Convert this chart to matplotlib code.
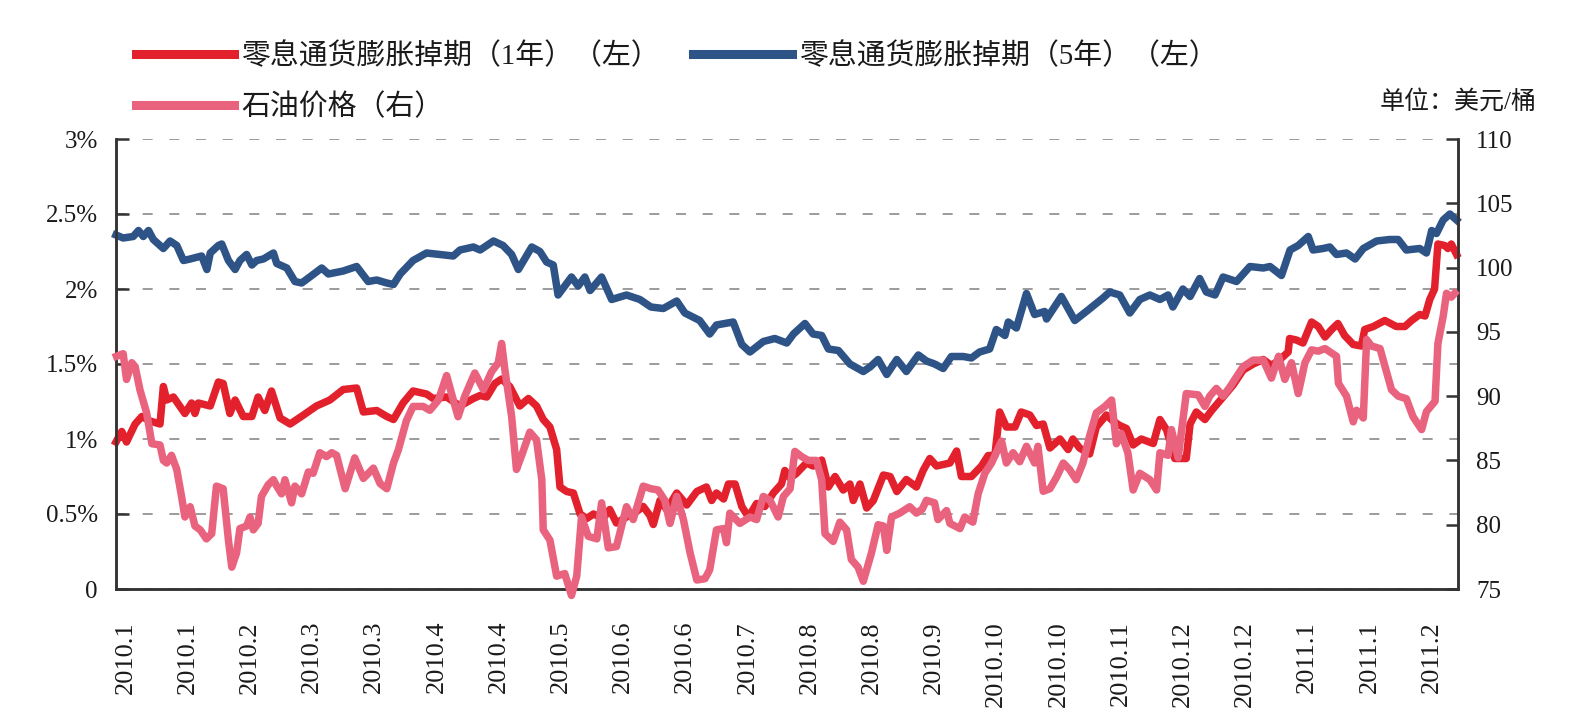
import matplotlib
matplotlib.use("Agg")
import matplotlib.pyplot as plt
from matplotlib.lines import Line2D

plt.rcParams['font.family'] = ['Liberation Serif', 'Noto Sans CJK SC']

# trading-day index from the first day shown; one tick label every 13 days
tick_days = [2 + 13 * i for i in range(22)]
tick_labels = ["2010.1", "2010.1", "2010.2", "2010.3", "2010.3", "2010.4", "2010.4",
               "2010.5", "2010.6", "2010.6", "2010.7", "2010.8", "2010.8", "2010.9",
               "2010.10", "2010.10", "2010.11", "2010.12", "2010.12", "2011.1",
               "2011.1", "2011.2"]

# 5-year zero coupon inflation swap, %
day_5y = [0.0, 1.5, 3.6, 4.7, 5.7, 6.8, 7.8, 9.9, 11.3, 12.7, 14.1, 15.5, 17.9, 19.0, 19.7,
          21.4, 22.1, 23.5, 24.9, 25.9, 27.3, 28.4, 29.4, 30.8, 32.9, 33.6, 35.7, 37.4, 38.8,
          40.5, 43.0, 44.4, 47.5, 50.3, 52.7, 54.5, 56.6, 58.0, 59.4, 62.1, 64.9, 67.7, 70.5,
          71.9, 74.7, 76.1, 78.9, 80.9, 82.7, 84.1, 86.9, 88.6, 90.0, 91.4, 92.4, 93.8, 95.2,
          96.6, 98.0, 99.1, 101.5, 103.6, 106.7, 109.5, 111.8, 114.4, 117.2, 118.9, 122.0,
          124.1, 125.5, 129.0, 130.8, 132.5, 135.3, 137.7, 140.2, 141.6, 144.0, 145.7, 147.5,
          148.9, 151.0, 153.4, 156.2, 157.6, 159.3, 161.1, 163.2, 165.2, 167.7, 169.4, 171.1,
          172.9, 174.6, 177.1, 178.8, 180.5, 182.6, 184.0, 185.8, 186.5, 188.2, 190.3, 192.0,
          194.1, 194.5, 197.6, 200.4, 202.8, 206.3, 207.7, 209.8, 211.9, 214.0, 216.1, 218.2,
          219.9, 220.9, 223.0, 224.5, 226.5, 227.9, 229.7, 231.4, 234.2, 237.0, 239.8, 241.2,
          243.6, 245.4, 247.1, 249.2, 250.2, 252.3, 253.7, 255.1, 257.2, 259.0, 260.7, 263.5,
          266.2, 268.0, 269.7, 272.5, 273.9, 275.0, 276.0, 277.4, 278.8, 280.2]
swap_5y = [2.36, 2.34, 2.35, 2.39, 2.35, 2.39, 2.33, 2.27, 2.32, 2.29, 2.19, 2.20, 2.22, 2.13, 2.24,
           2.29, 2.30, 2.19, 2.13, 2.19, 2.23, 2.16, 2.19, 2.20, 2.24, 2.17, 2.14, 2.05, 2.04,
           2.08, 2.14, 2.10, 2.12, 2.15, 2.05, 2.06, 2.04, 2.03, 2.10, 2.19, 2.24, 2.23, 2.22,
           2.26, 2.28, 2.26, 2.32, 2.29, 2.23, 2.13, 2.28, 2.25, 2.18, 2.16, 1.96, 2.02, 2.08,
           2.02, 2.08, 1.99, 2.08, 1.93, 1.96, 1.93, 1.88, 1.87, 1.92, 1.84, 1.79,
           1.70, 1.76, 1.78, 1.63, 1.58, 1.65, 1.67, 1.64, 1.70, 1.77, 1.70, 1.69,
           1.60, 1.59, 1.50, 1.45, 1.48, 1.53, 1.43, 1.53, 1.45, 1.56, 1.52, 1.50,
           1.47, 1.55, 1.55, 1.54, 1.58, 1.60, 1.73, 1.69, 1.78, 1.74, 1.97, 1.83,
           1.85, 1.80, 1.95, 1.79, 1.85, 1.94, 1.98, 1.96, 1.84, 1.93, 1.96, 1.93,
           1.96, 1.88, 2.00, 1.95, 2.07, 1.98, 1.96, 2.08, 2.05, 2.15, 2.14, 2.15,
           2.09, 2.26, 2.29, 2.35, 2.26, 2.27, 2.28, 2.23, 2.24, 2.20, 2.27, 2.32,
           2.33, 2.33, 2.26, 2.27, 2.24, 2.39, 2.37, 2.46, 2.50, 2.46]

# 1-year zero coupon inflation swap, %
day_1y = [0.0, 1.2, 2.2, 4.0, 5.4, 7.1, 9.2, 9.9, 10.6, 12.0, 14.4, 15.8, 16.5, 17.2, 19.7,
          21.4, 22.4, 23.8, 24.9, 26.6, 28.4, 29.7, 31.1, 32.5, 34.3, 36.4, 39.2, 41.9, 44.7,
          47.5, 50.3, 51.7, 54.5, 56.6, 58.0, 60.0, 62.1, 64.9, 66.3, 69.1, 71.9, 74.7, 76.1,
          77.5, 79.2, 80.6, 82.3, 84.4, 86.2, 87.9, 89.3, 90.7, 92.1, 92.8, 94.2, 95.6, 97.0,
          98.4, 99.8, 101.8, 103.2, 104.6, 106.7, 108.1, 110.2, 111.6, 112.3, 113.7, 115.1,
          117.2, 119.3, 121.4, 123.4, 124.5, 125.5, 127.0, 128.0, 129.4, 130.8, 132.2, 133.9,
          135.6, 137.4, 139.1, 139.8, 140.9, 142.2, 144.3, 145.7, 147.5, 148.9, 150.3, 152.0,
          153.4, 154.1, 155.5, 156.9, 158.3, 160.4, 161.8, 163.2, 165.2, 167.3, 168.7, 170.1,
          171.5, 174.3, 175.7, 176.7, 178.8, 180.9, 182.3, 183.7, 184.7, 186.1, 187.9, 189.2,
          191.0, 192.4, 193.8, 195.2, 197.3, 199.0, 200.0, 201.4, 203.5, 204.9, 207.0, 208.4,
          209.8, 211.2, 212.6, 214.3, 216.8, 218.2, 219.6, 221.3, 223.7, 224.5, 225.8, 227.6,
          229.0, 231.4, 233.5, 235.6, 237.7, 239.8, 241.5, 243.3, 245.0, 245.3, 246.7, 248.1,
          249.9, 251.3, 252.7, 254.1, 255.4, 256.8, 258.6, 260.3, 261.0, 262.8, 265.2, 267.6,
          269.4, 270.8, 272.5, 273.6, 274.6, 275.6, 276.3, 277.7, 278.4, 279.1, 280.2]
swap_1y = [0.98, 1.05, 0.98, 1.10, 1.15, 1.12, 1.10, 1.35, 1.26, 1.28, 1.17, 1.24, 1.17, 1.24, 1.22,
           1.38, 1.37, 1.17, 1.26, 1.15, 1.15, 1.28, 1.19, 1.32, 1.14, 1.10, 1.16, 1.22, 1.26,
           1.33, 1.34, 1.18, 1.19, 1.15, 1.13, 1.24, 1.32, 1.30, 1.27, 1.28, 1.22, 1.27, 1.29,
           1.28, 1.37, 1.40, 1.35, 1.22, 1.27, 1.22, 1.13, 1.08, 0.93, 0.68, 0.65, 0.64, 0.50,
           0.47, 0.50, 0.47, 0.53, 0.44, 0.48, 0.50, 0.55, 0.49, 0.43, 0.59, 0.53,
           0.64, 0.56, 0.65, 0.68, 0.59, 0.64, 0.60, 0.70, 0.70, 0.55, 0.48, 0.57,
           0.55, 0.64, 0.70, 0.79, 0.74, 0.77, 0.84, 0.82, 0.86, 0.68, 0.75, 0.66,
           0.70, 0.59, 0.70, 0.54, 0.59, 0.76, 0.75, 0.65, 0.73, 0.68, 0.79, 0.87,
           0.82, 0.84, 0.92, 0.75, 0.75, 0.82, 0.89, 0.89, 1.18, 1.08, 1.08, 1.18,
           1.16, 1.09, 1.10, 0.94, 1.00, 0.93, 1.00, 0.94, 0.90, 1.08, 1.16, 1.12,
           1.09, 1.07, 0.96, 1.00, 0.97, 1.13, 1.06, 0.87, 0.87, 1.10, 1.18, 1.13,
           1.19, 1.28, 1.36, 1.46, 1.50, 1.53, 1.49, 1.53, 1.58, 1.67, 1.66, 1.64,
           1.78, 1.75, 1.68, 1.73, 1.77, 1.69, 1.63, 1.62, 1.73, 1.75, 1.79, 1.75,
           1.75, 1.79, 1.83, 1.82, 1.93, 2.00, 2.30, 2.29, 2.27, 2.30, 2.23]

# oil price, USD / barrel
day_oil = [0.1, 1.5, 2.2, 3.3, 4.0, 5.0, 6.4, 7.5, 9.2, 9.9, 10.6, 11.6, 12.7, 13.7, 14.4,
           15.5, 16.5, 17.6, 18.9, 20.0, 21.0, 22.4, 23.5, 24.2, 25.2, 25.9, 27.3, 28.0, 28.7,
           29.7, 30.4, 31.8, 32.9, 33.6, 34.6, 35.3, 36.7, 37.4, 38.8, 40.2, 41.2, 42.6, 44.0,
           45.1, 46.1, 47.9, 49.9, 51.7, 53.8, 55.2, 56.6, 58.0, 59.0, 60.7, 62.1, 64.2, 65.6,
           67.4, 69.1, 70.5, 71.5, 72.9, 75.0, 76.8, 78.5, 79.9, 80.6, 81.3, 82.7, 83.7, 84.8,
           86.5, 87.9, 89.0, 89.3, 90.7, 92.1, 93.8, 95.2, 96.3, 97.3, 98.7, 100.5, 101.5,
           102.9, 104.6, 106.7, 108.1, 110.2, 111.8, 113.3, 114.7, 115.8, 117.2, 118.6, 120.0,
           121.4, 123.1, 124.1, 125.5, 127.0, 127.6, 128.3, 130.4, 132.5, 133.9, 135.3, 136.7,
           138.4, 139.5, 140.9, 141.9, 143.3, 144.7, 146.4, 147.5, 148.2, 149.9, 151.3, 152.7,
           153.7, 155.1, 156.2, 157.9, 159.3, 160.4, 161.1, 162.1, 163.8, 165.9, 167.3, 168.5,
           169.4, 171.1, 171.8, 173.6, 174.3, 176.4, 177.4, 179.1, 180.2, 181.6, 183.0, 185.1,
           186.1, 187.5, 188.9, 190.3, 192.0, 192.7, 193.8, 195.2, 196.6, 198.0, 199.3, 200.7,
           202.1, 203.5, 204.9, 206.7, 208.1, 209.1, 210.1, 211.5, 212.6, 214.0, 216.1, 217.5,
           218.2, 219.9, 220.6, 222.0, 223.7, 226.2, 227.6, 228.6, 230.0, 231.4, 232.8, 234.2,
           235.6, 237.7, 239.8, 241.5, 243.0, 244.3, 245.7, 247.1, 248.5, 249.9, 251.3, 252.7,
           255.1, 255.5, 257.2, 258.6, 259.3, 260.7, 261.4, 262.4, 264.2, 266.6, 268.0, 269.7,
           271.1, 272.9, 273.9, 275.7, 276.3, 277.4, 278.1, 279.1, 279.8]
oil = [93.1, 93.3, 91.3, 92.6, 92.3, 90.5, 88.7, 86.3, 86.2, 85.0, 84.8, 85.4, 84.3, 82.2, 80.6,
       81.4, 79.9, 79.6, 78.9, 79.3, 83.0, 82.8, 78.8, 76.7, 77.8, 79.7, 79.9, 80.6, 79.6,
       80.1, 82.2, 83.1, 83.5, 83.0, 82.4, 83.5, 81.7, 83.0, 82.4, 84.1, 84.0, 85.6, 85.3,
       85.6, 85.4, 82.8, 85.2, 83.6, 84.4, 83.2, 82.8, 84.8, 85.8, 88.1, 89.2, 89.2, 88.9,
       89.7, 91.6, 89.7, 88.4, 90.0, 91.8, 90.5, 91.9, 92.6, 94.1, 92.0, 88.4, 84.3, 85.4,
       87.2, 86.6, 83.5, 79.6, 78.8, 76.0, 76.2, 74.5, 76.0, 80.6, 79.1, 78.9, 81.7,
       78.2, 78.3, 81.4, 80.4, 83.0, 82.8, 82.7, 81.9, 80.1, 82.2, 80.4, 77.8,
       75.7, 75.8, 76.5, 79.6, 79.7, 78.6, 80.9, 80.1, 80.6, 80.4, 82.2, 81.9,
       80.6, 82.2, 82.8, 85.7, 85.3, 85.0, 85.0, 83.5, 79.3, 78.7, 80.2, 79.6,
       77.3, 76.7, 75.6, 77.8, 80.0, 79.9, 78.0, 80.6, 80.9, 81.4, 80.9, 81.2,
       81.9, 81.7, 80.4, 81.1, 80.1, 79.7, 80.6, 80.2, 82.4, 84.0, 84.8, 86.5,
       84.8, 85.6, 84.9, 86.1, 84.8, 86.1, 82.6, 82.8, 83.7, 84.8, 84.3, 83.5,
       84.8, 86.9, 88.7, 89.2, 89.7, 86.3, 87.1, 85.6, 82.7, 84.0, 83.5, 82.7,
       85.6, 85.4, 87.4, 85.2, 90.2, 90.1, 89.2, 90.0, 90.6, 90.0, 90.7, 91.5,
       92.3, 92.8, 92.8, 91.4, 93.1, 91.3, 92.6, 90.2, 92.6, 93.6, 93.5, 93.7,
       93.1, 91.0, 90.0, 88.0, 88.9, 88.3, 94.4, 93.9, 93.7, 90.5, 90.0, 89.8,
       88.4, 87.4, 88.8, 89.6, 94.1, 96.2, 98.0, 97.7, 98.0]

left_ticks = [0, 0.5, 1, 1.5, 2, 2.5, 3]
left_labels = ["0", "0.5%", "1%", "1.5%", "2%", "2.5%", "3%"]
right_ticks = [75, 80, 85, 90, 95, 100, 105, 110]

names = ["零息通货膨胀掉期（1年）（左）", "零息通货膨胀掉期（5年）（左）", "石油价格（右）"]
c_red = "#E3212D"
c_blue = "#2E5386"
c_pink = "#E9637F"
c_axis = "#333333"
c_text = "#1a1a1a"

fig = plt.figure(figsize=(15.86, 7.27), dpi=100)
ax = fig.add_axes([116 / 1586, 1 - 589 / 727, 1342 / 1586, 450 / 727])
ax2 = ax.twinx()

ax.plot(day_5y, swap_5y, color=c_blue, lw=5.4, clip_on=False, zorder=3)
ax.plot(day_1y, swap_1y, color=c_red, lw=5.4, clip_on=False, zorder=4)
ax2.plot(day_oil, oil, color=c_pink, lw=5.4, clip_on=False, zorder=3)

ax.set_xlim(0, 280.5)
ax.set_ylim(0, 3)
ax2.set_ylim(75, 110)

ax.set_yticks(left_ticks)
ax.set_yticklabels(left_labels)
ax2.set_yticks(right_ticks)
ax.set_xticks(tick_days)
ax.set_xticklabels(tick_labels, rotation=90)

ax.grid(axis="y", color="#8a8a8a", lw=1.2, linestyle=(0, (6, 10)))
ax.set_axisbelow(True)

for a in (ax, ax2):
    a.spines["top"].set_visible(False)
    for s in ("left", "right", "bottom"):
        a.spines[s].set_color(c_axis)
        a.spines[s].set_linewidth(1.8)
ax.tick_params(axis="y", direction="in", length=9, width=1.8, pad=13,
               labelsize=18, colors=c_axis, labelcolor=c_text)
ax2.tick_params(axis="y", direction="in", length=9, width=1.8, pad=13,
                labelsize=18, colors=c_axis, labelcolor=c_text)
ax.tick_params(axis="x", length=0, pad=23, labelsize=19, labelcolor=c_text)

handles = [Line2D([], [], color=c_red, lw=6.5),
           Line2D([], [], color=c_pink, lw=6.5),
           Line2D([], [], color=c_blue, lw=6.5)]
fig.legend(handles, [names[0], names[2], names[1]], ncol=2, loc="upper left",
           bbox_to_anchor=(136 / 1586, 0.941), frameon=False, fontsize=20.8,
           handlelength=3.4, handletextpad=0.25, columnspacing=1.15,
           labelspacing=0.8, borderpad=0, borderaxespad=0, labelcolor=c_text)

fig.text(1537 / 1586, 1 - 102 / 727, "单位：美元/桶", ha="right", va="center",
         fontsize=18, color=c_text)

fig.savefig("out.png", dpi=100)
